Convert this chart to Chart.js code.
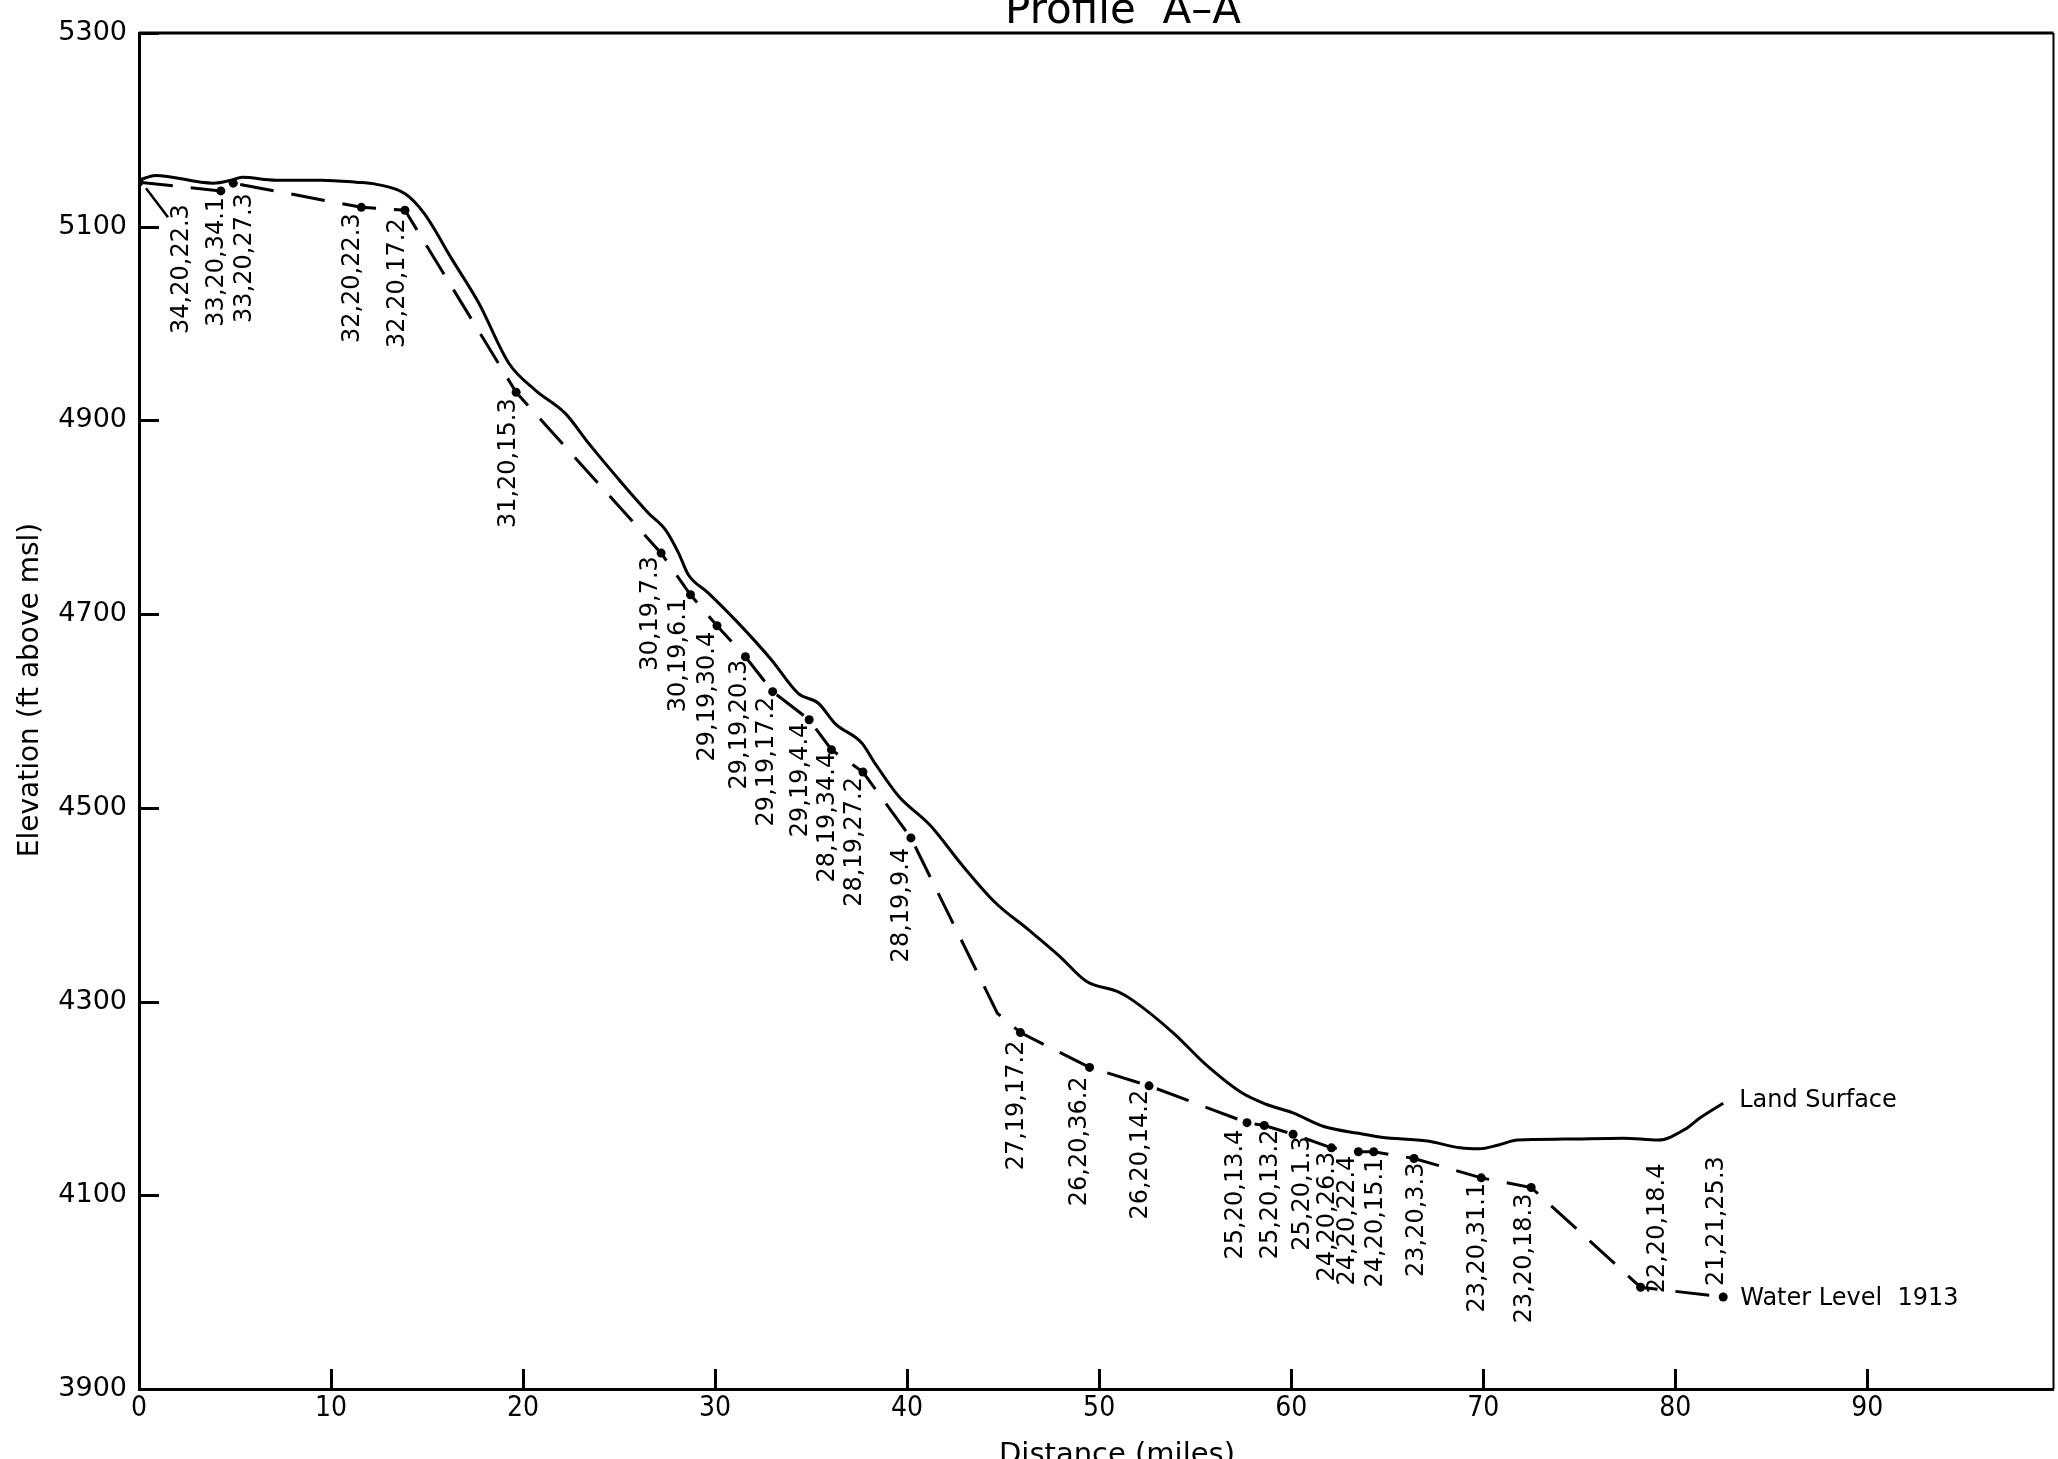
<!DOCTYPE html>
<html><head><meta charset="utf-8">
<script src="https://cdn.jsdelivr.net/npm/chart.js@4.4.1/dist/chart.umd.min.js"></script>
<style>html,body{margin:0;padding:0;background:#fff;overflow:hidden}canvas{display:block}</style>
</head><body>
<canvas id="c" width="2058" height="1459" style="width:2058px;height:1459px"></canvas>
<script>
// ---- data ----
const xTickValues = [0, 10, 20, 30, 40, 50, 60, 70, 80, 90];
const yTickValues = [3900, 4100, 4300, 4500, 4700, 4900, 5100, 5300];

const landDistance = [0, 0.85, 3.87, 4.8, 5.38, 7.12, 9.5, 11.3, 12.32, 13.86, 14.84, 16.31, 17.7, 19.26, 20.65, 22.21, 23.43, 24.99, 26.55, 27.42, 28.1, 28.6, 29.64, 31.2, 32.93, 34.34, 35.38, 36.25, 37.64, 38.33, 39.56, 41.2, 42.9, 44.6, 46.33, 47.93, 49.33, 51.0, 51.7, 53.9, 55.5, 57.5, 58.7, 60.1, 61.7, 63.5, 64.7, 67.1, 68.8, 69.8, 70.8, 71.8, 74.2, 77.3, 79.1, 80.5, 81.3, 82.5];
const landElevation = [5148, 5153, 5145, 5148, 5151, 5148, 5148, 5146, 5144, 5134, 5114, 5066, 5021, 4959, 4931, 4907, 4876, 4839, 4804, 4787, 4763, 4741, 4722, 4691, 4653, 4618, 4608, 4587, 4567, 4546, 4512, 4482, 4440, 4402, 4374, 4347, 4321, 4310, 4302, 4267, 4236, 4205, 4194, 4185, 4171, 4164, 4160, 4156, 4149, 4148, 4152, 4157, 4158, 4159, 4157, 4168, 4180, 4195];

const waterDistance = [0, 4.26, 4.91, 11.58, 13.85, 19.64, 27.19, 28.72, 30.10, 31.58, 33.0, 34.9, 36.06, 37.7, 40.2, 44.7, 45.9, 49.5, 52.6, 57.7, 58.6, 60.1, 62.1, 63.5, 64.3, 66.4, 69.9, 72.5, 78.2, 82.5];
const waterElevation1913 = [5146, 5137, 5145, 5120, 5117, 4929, 4763, 4720, 4688, 4656, 4620, 4591, 4560, 4537, 4469, 4288, 4268, 4232, 4213, 4175, 4172, 4163, 4149, 4145, 4145, 4138, 4118, 4108, 4005, 3995];
const wellLabels = ['34,20,22.3','33,20,34.1','33,20,27.3','32,20,22.3','32,20,17.2','31,20,15.3','30,19,7.3','30,19,6.1','29,19,30.4','29,19,20.3','29,19,17.2','29,19,4.4','28,19,34.4','28,19,27.2','28,19,9.4','','27,19,17.2','26,20,36.2','26,20,14.2','25,20,13.4','25,20,13.2','25,20,1.3','24,20,26.3','24,20,22.4','24,20,15.1','23,20,3.3','23,20,31.1','23,20,18.3','22,20,18.4','21,21,25.3'];

// ---- label layout (pixel offsets from each well point) ----
const labelPlacement = [[43,22,'below'],[-4,6,'below'],[11,10,'below'],[-9,6,'below'],[-7,8,'below'],[-7,6,'below'],[-10,3,'below'],[-12,3,'below'],[-9,6,'below'],[-6,3,'below'],[-6,5,'below'],[-8,3,'below'],[-4,3,'below'],[-8,5,'below'],[-9,10,'below'],null,[-4,8,'below'],[-10,9,'below'],[-8,4,'below'],[-11,7,'below'],[6,4,'below'],[10,2,'below'],[-4,4,'below'],[-11,4,'below'],[2,6,'below'],[3,4,'below'],[-3,5,'below'],[-6,6,'below'],[17,6,'above'],[-6,-11,'above']];

const INK = '#000';
const SANS = '"DejaVu Sans", "Liberation Sans", sans-serif';
const NARROW = '"Liberation Sans Narrow", "DejaVu Sans Condensed", "Liberation Sans", sans-serif';

const decor = {
  id: 'decor',
  afterDatasetsDraw(chart) {
    const ctx = chart.ctx;
    const meta = chart.getDatasetMeta(1);
    ctx.save();
    ctx.fillStyle = INK;
    ctx.font = '24px ' + SANS;
    meta.data.forEach((pt, i) => {
      const txt = wellLabels[i];
      const p = labelPlacement[i];
      if (!txt || !p) return;
      ctx.save();
      ctx.translate(pt.x + p[0], pt.y + p[1]);
      ctx.rotate(-Math.PI / 2);
      ctx.textAlign = p[2] === 'above' ? 'left' : 'right';
      ctx.textBaseline = 'middle';
      ctx.fillText(txt, 0, 0);
      ctx.restore();
    });
    // leader for first well
    const p0 = meta.data[0];
    ctx.strokeStyle = INK; ctx.lineWidth = 2.5;
    ctx.beginPath(); ctx.moveTo(p0.x + 7, p0.y + 6); ctx.lineTo(p0.x + 29, p0.y + 35); ctx.stroke();
    // series labels
    const landMeta = chart.getDatasetMeta(0);
    const lEnd = landMeta.data[landMeta.data.length - 1];
    const wEnd = meta.data[meta.data.length - 1];
    ctx.textAlign = 'left'; ctx.textBaseline = 'alphabetic';
    ctx.font = '24px ' + SANS;
    ctx.fillText('Land Surface', lEnd.x + 16, lEnd.y + 4);
    ctx.fillText('Water Level  1913', wEnd.x + 17, wEnd.y + 8);
    ctx.restore();
  },
  afterDraw(chart) {
    const ctx = chart.ctx;
    const a = chart.chartArea;
    const xs = chart.scales.x, ys = chart.scales.y;
    ctx.save();
    ctx.setLineDash([]);
    ctx.strokeStyle = INK;
    ctx.lineWidth = 3;
    ctx.beginPath(); ctx.moveTo(a.left, a.top); ctx.lineTo(a.right, a.top); ctx.stroke();
    ctx.lineWidth = 2;
    ctx.beginPath(); ctx.moveTo(a.right, a.top); ctx.lineTo(a.right, a.bottom); ctx.stroke();
    // inward tick marks at the scale's tick values
    ctx.lineWidth = 3;
    ctx.beginPath();
    xTickValues.forEach(v => {
      if (v === 0) return;
      const px = Math.round(xs.getPixelForValue(v)) + 0.5;
      ctx.moveTo(px, a.bottom); ctx.lineTo(px, a.bottom - 20);
    });
    yTickValues.forEach(v => {
      const py = Math.round(ys.getPixelForValue(v)) + 0.5;
      ctx.moveTo(a.left, py); ctx.lineTo(a.left + 20, py);
    });
    ctx.stroke();
    // titles
    ctx.fillStyle = INK;
    ctx.textAlign = 'center'; ctx.textBaseline = 'alphabetic';
    ctx.font = '42px ' + SANS;
    ctx.fillText('Profile  A\u2013A', 1123, 23);
    ctx.font = '29px ' + SANS;
    ctx.fillText('Distance (miles)', 1117, 1463);
    ctx.save();
    ctx.translate(31, 690); ctx.rotate(-Math.PI / 2);
    ctx.textBaseline = 'middle';
    ctx.font = '28px ' + SANS;
    ctx.fillText('Elevation (ft above msl)', 0, 0);
    ctx.restore();
    ctx.restore();
  }
};

new Chart(document.getElementById('c'), {
  type: 'line',
  data: {
    datasets: [
      {
        label: 'Land Surface',
        data: landDistance.map((d, i) => ({x: d, y: landElevation[i]})),
        borderColor: INK, borderWidth: 3, pointRadius: 0, cubicInterpolationMode: 'monotone',
        borderJoinStyle: 'round', fill: false
      },
      {
        label: 'Water Level 1913',
        data: waterDistance.map((d, i) => ({x: d, y: waterElevation1913[i]})),
        borderColor: INK, borderWidth: 3, borderDash: [34, 18], tension: 0,
        pointRadius: c => wellLabels[c.dataIndex] ? 4.5 : 0,
        pointBackgroundColor: INK, pointBorderWidth: 0, fill: false
      }
    ]
  },
  options: {
    responsive: false, animation: false, devicePixelRatio: 1,
    layout: {padding: {top: 33, right: 2, left: 0, bottom: 0}},
    plugins: {legend: {display: false}, tooltip: {enabled: false}, title: {display: false}},
    scales: {
      x: {
        type: 'linear', min: 0, max: 99.7,
        afterBuildTicks: s => { s.ticks = xTickValues.map(v => ({value: v})); },
        afterFit: s => { s.height = 70; },
        ticks: {autoSkip: false, maxRotation: 0, color: INK, padding: -5, font: {family: NARROW, size: 28},
                callback: v => String(v)},
        grid: {display: false},
        border: {display: true, color: INK, width: 3}
      },
      y: {
        type: 'linear', min: 3900, max: 5300,
        afterBuildTicks: s => { s.ticks = yTickValues.map(v => ({value: v})); },
        afterFit: s => { s.width = 139; },
        ticks: {autoSkip: false, color: INK, padding: 4, font: {family: SANS, size: 27},
                callback: v => String(v)},
        grid: {display: false},
        border: {display: true, color: INK, width: 3}
      }
    }
  },
  plugins: [decor]
});
</script>
</body></html>
